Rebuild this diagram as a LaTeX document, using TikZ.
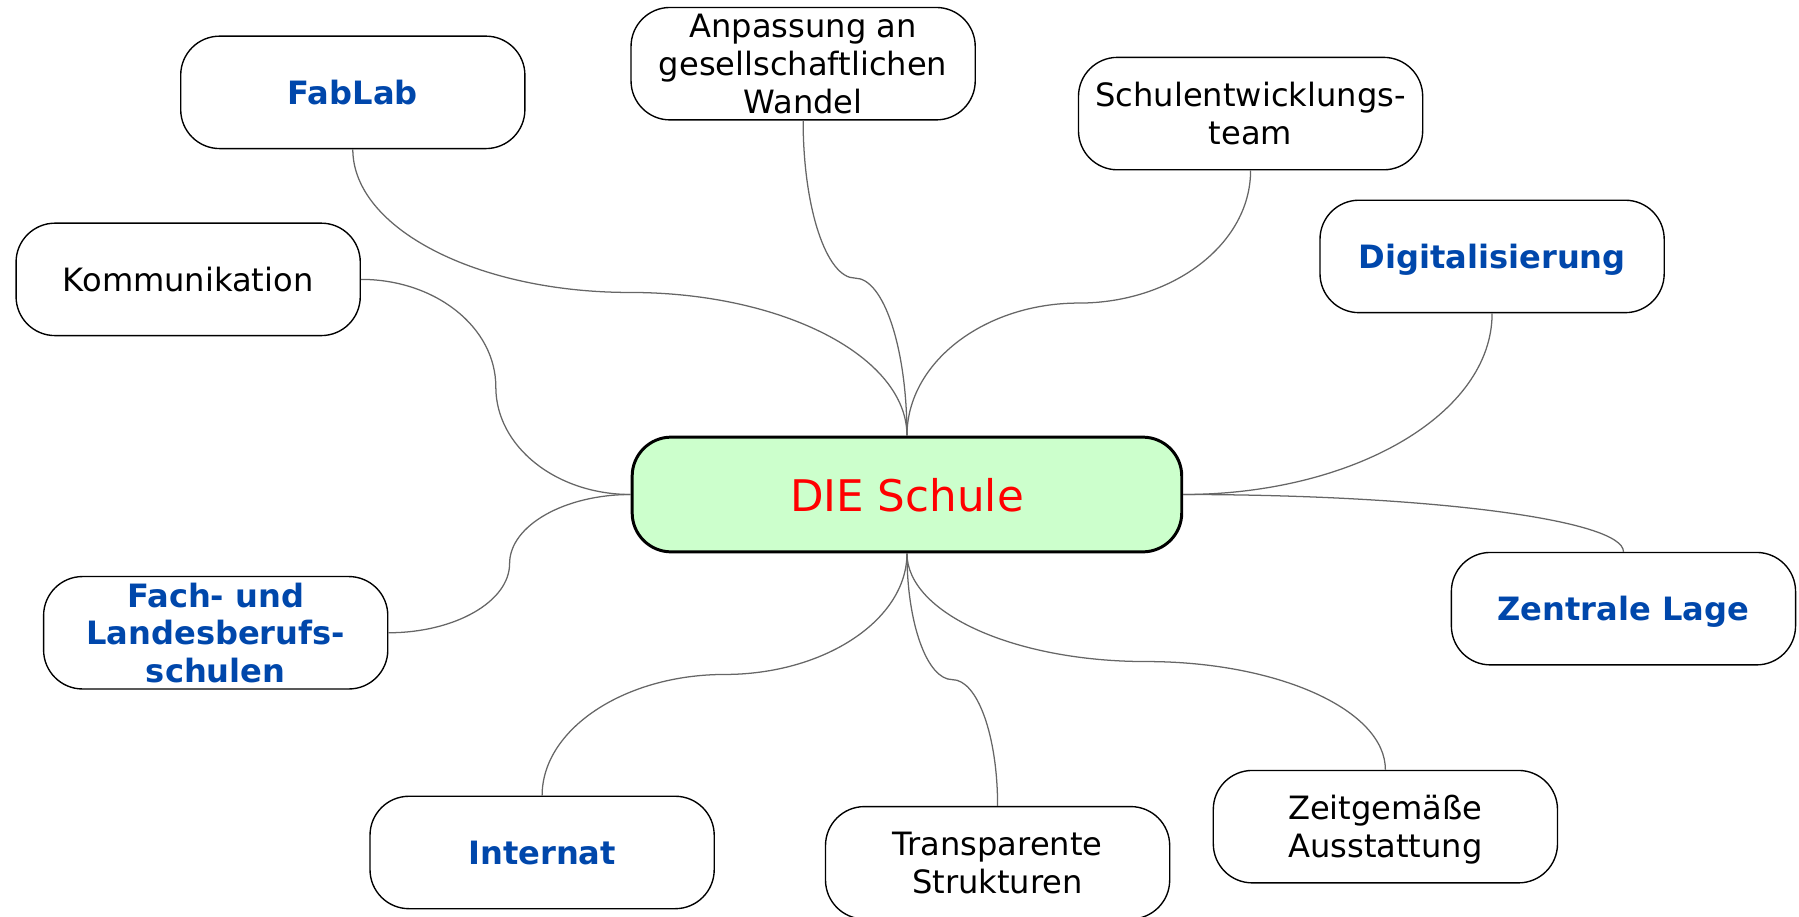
\documentclass[tikz,border=0pt]{standalone}
\usepackage{fontspec}
\setmainfont{DejaVu Sans}
\usetikzlibrary{calc}
\definecolor{myblue}{RGB}{0,71,171}
\definecolor{mygreen}{HTML}{CCFFCC}
\definecolor{mygray}{gray}{0.4}

\begin{document}
\begin{tikzpicture}
  [x=0.5pt, y=-0.5pt,
   topic/.style={draw, line width=0.6pt, rounded corners=17pt,
    minimum width=150pt, minimum height=49pt, inner sep=0pt,
    align=center, text depth=0pt,
    font=\fontsize{14}{16.5}\selectfont},
   key/.style={text=myblue, font=\fontsize{14}{16.5}\selectfont\bfseries},
   root/.style={draw, line width=1.3pt, fill=mygreen, rounded corners=17pt,
    minimum width=239.5pt, minimum height=50pt, inner sep=0pt,
    text=red, text depth=0pt, font=\fontsize{19}{22}\selectfont},
   link/.style={draw=mygray, line width=0.55pt},
  ]
  \useasboundingbox (0,0) rectangle (1568,798.4);

  \node[root] (die) at (790.5,431) {DIE Schule};

  \node[topic, key] (fab) at (307.5,80.5) {FabLab};
  \node[topic] (anp) at (700,55.5) {Anpassung an\\gesellschaftlichen\\Wandel};
  \node[topic] (team) at (1090,99) {Schulentwicklungs-\\team};
  \node[topic, key] (dig) at (1300.5,223.5) {Digitalisierung};
  \node[topic] (komm) at (164,243.5) {Kommunikation};
  \node[topic, key] (fach) at (188,551.5) {Fach- und\\Landesberufs-\\schulen};
  \node[topic, key] (lage) at (1415,530.5) {Zentrale Lage};
  \node[topic, key] (inter) at (472.5,743) {Internat};
  \node[topic] (trans) at (869.5,752) {Transparente\\Strukturen};
  \node[topic] (zeit) at (1207.5,720.5) {Zeitgemäße\\Ausstattung};

  \coordinate (m1) at ($(die.north)!.5!(fab.south)$);
  \coordinate (m2) at ($(die.north)!.5!(anp.south)$);
  \coordinate (m3) at ($(die.north)!.5!(team.south)$);
  \coordinate (m4) at ($(die.west)!.5!(komm.east)$);
  \coordinate (m5) at ($(die.west)!.5!(fach.east)$);
  \coordinate (m6) at ($(die.south)!.5!(inter.north)$);
  \coordinate (m7) at ($(die.south)!.5!(trans.north)$);
  \coordinate (m8) at ($(die.south)!.5!(zeit.north)$);

  \path[link] (die.north) .. controls +(0,-69) and +(133,0) .. (m1)
                          .. controls +(-133,0) and +(0,69) .. (fab.south);
  \path[link] (die.north) .. controls +(0,-76) and +(25,0) .. (m2)
                          .. controls +(-25,0) and +(0,76) .. (anp.south);
  \path[link] (die.north) .. controls +(0,-64) and +(-82,0) .. (m3)
                          .. controls +(82,0) and +(0,64) .. (team.south);
  \path[link] (die.east) .. controls +(148,0) and +(0,88) .. (dig.south);
  \path[link] (die.east) .. controls +(212,0) and +(0,-28) .. (lage.north);
  \path[link] (die.west) .. controls +(-65,0) and +(0,52) .. (m4)
                         .. controls +(0,-52) and +(65,0) .. (komm.east);
  \path[link] (die.west) .. controls +(-58,0) and +(0,-33) .. (m5)
                         .. controls +(0,33) and +(58,0) .. (fach.east);
  \path[link] (die.south) .. controls +(0,58) and +(87,0) .. (m6)
                          .. controls +(-87,0) and +(0,-58) .. (inter.north);
  \path[link] (die.south) .. controls +(0,61) and +(-22,0) .. (m7)
                          .. controls +(22,0) and +(0,-61) .. (trans.north);
  \path[link] (die.south) .. controls +(0,52) and +(-115,0) .. (m8)
                          .. controls +(115,0) and +(0,-52) .. (zeit.north);

\end{tikzpicture}
\end{document}
